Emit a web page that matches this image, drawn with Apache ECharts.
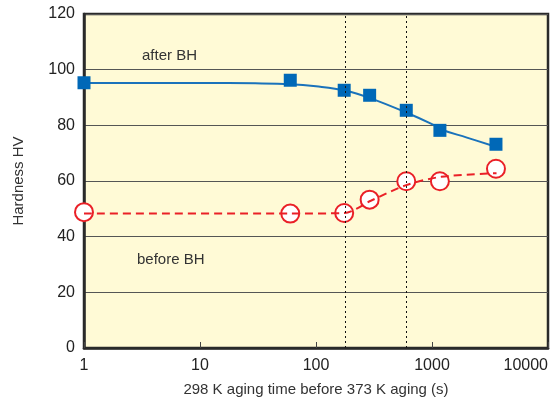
<!DOCTYPE html>
<html>
<head>
<meta charset="utf-8">
<script src="https://cdn.jsdelivr.net/npm/echarts@6/dist/echarts.min.js"></script>
<style>html,body{margin:0;padding:0;background:#fff}#c{width:551px;height:400px}</style>
</head>
<body>
<div id="c"></div>
<script>
// measured data (x: s, y: HV)
const afterTimes = [1, 60, 175, 290, 600, 1170, 3560];
const afterHV = [95.3, 96.2, 92.6, 90.8, 85.4, 78.2, 73.2];
const afterFitTimes = [1, 10, 30, 60, 100, 180, 300, 600, 1000, 1200, 2000, 3600];
const afterFitHV = [95.2, 95.2, 95.1, 94.8, 94.0, 92.4, 89.6, 84.6, 80.4, 78.5, 75.6, 72.2];
const beforeTimes = [1, 60, 175, 290, 600, 1170, 3560];
const beforeHV = [48.8, 48.3, 48.5, 53.3, 59.9, 59.9, 64.4];
const beforeFitTimes = [1, 60, 175, 300, 600, 1200, 3600];
const beforeFitHV = [48.3, 48.3, 48.5, 53.0, 58.5, 61.5, 62.8];
const markerTimes = [180, 600];
const xTicks = [1, 10, 100, 1000, 10000];
const yTicks = [0, 20, 40, 60, 80, 100, 120];

const zip = (a, b) => a.map((v, i) => [v, b[i]]);
const FONT = 'Liberation Sans, Arial, sans-serif';
const chart = echarts.init(document.getElementById('c'));
chart.setOption({
  animation: false,
  grid: {left: 84, right: 3, top: 14, bottom: 52, show: true, backgroundColor: '#fffad6', borderColor: '#2a2a2a', borderWidth: 2.5, containLabel: false, outerBoundsMode: 'none'},
  xAxis: {
    type: 'log', logBase: 10, min: xTicks[0], max: xTicks[xTicks.length - 1],
    name: '298 K aging time before 373 K aging (s)', nameLocation: 'middle', nameGap: 34,
    nameTextStyle: {fontFamily: FONT, fontSize: 15, color: '#333'},
    axisLine: {show: true, lineStyle: {color: '#2a2a2a', width: 2.5}},
    axisTick: {show: true, inside: true, length: 6, lineStyle: {color: '#444', width: 1}},
    minorTick: {show: false},
    splitLine: {show: false},
    axisLabel: {fontFamily: FONT, fontSize: 16, color: '#222', margin: 10, alignMaxLabel: 'right',
      formatter: v => String(Math.round(v))}
  },
  yAxis: {
    type: 'value', min: yTicks[0], max: yTicks[yTicks.length - 1], interval: 20,
    name: 'Hardness HV', nameLocation: 'middle', nameGap: 58, nameRotate: 90,
    nameTextStyle: {fontFamily: FONT, fontSize: 15, color: '#333'},
    axisLine: {show: true, lineStyle: {color: '#2a2a2a', width: 2.5}},
    axisTick: {show: false},
    splitLine: {show: true, lineStyle: {color: '#555', width: 1}},
    axisLabel: {fontFamily: FONT, fontSize: 16, color: '#222', margin: 9}
  },
  graphic: [
    {type: 'text', left: 142, top: 48, style: {text: 'after BH', font: '15px ' + FONT, fill: '#333'}},
    {type: 'text', left: 137, top: 252, style: {text: 'before BH', font: '15px ' + FONT, fill: '#333'}}
  ],
  series: [
    {type: 'line', data: zip(afterFitTimes, afterFitHV), smooth: 0.4, showSymbol: false,
     lineStyle: {color: '#1a72bb', width: 2}, z: 2,
     markLine: {silent: true, symbol: 'none', label: {show: false},
       lineStyle: {color: '#111', type: [2, 3], width: 1},
       data: markerTimes.map(t => ({xAxis: t}))}},
    {type: 'scatter', data: zip(afterTimes, afterHV), symbol: 'rect', symbolSize: 13,
     itemStyle: {color: '#0068b7', opacity: 1}, z: 3},
    {type: 'scatter', data: zip(beforeTimes, beforeHV), symbol: 'circle', symbolSize: 18,
     itemStyle: {color: '#ffffff', borderColor: '#ea2027', borderWidth: 2, opacity: 1}, z: 3},
    {type: 'line', data: zip(beforeFitTimes, beforeFitHV), smooth: 0.3, showSymbol: false,
     lineStyle: {color: '#ea2027', width: 2, type: [8, 5]}, z: 4}
  ]
});
</script>
</body>
</html>
